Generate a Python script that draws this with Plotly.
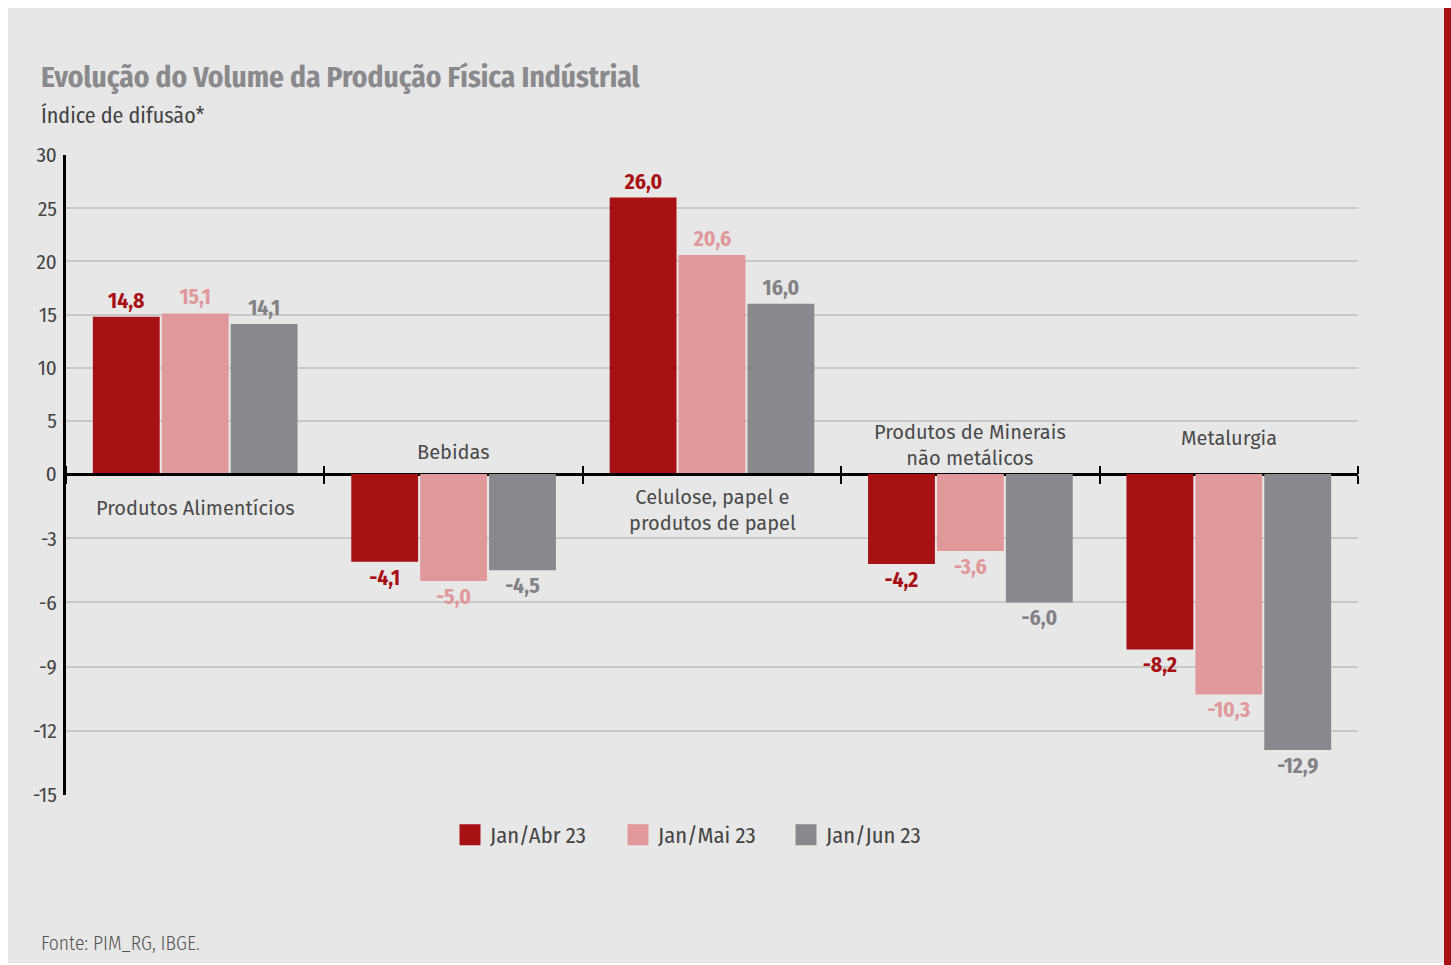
import plotly.graph_objects as go

categories = ["Produtos Alimentícios", "Bebidas", "Celulose, papel e<br>produtos de papel",
              "Produtos de Minerais<br>não metálicos", "Metalurgia"]
series_names = ["Jan/Abr 23", "Jan/Mai 23", "Jan/Jun 23"]
jan_abr = [14.8, -4.1, 26.0, -4.2, -8.2]
jan_mai = [15.1, -5.0, 20.6, -3.6, -10.3]
jan_jun = [14.1, -4.5, 16.0, -6.0, -12.9]
pos_ticks = [0, 5, 10, 15, 20, 25, 30]
neg_ticks = [-3, -6, -9, -12, -15]
# category name placement (axis units, relative to the zero line)
label_side = ["below", "above", "below", "above", "above"]
label_offset = [-1.6, 2.1, -1.7, 2.7, 3.4]

colors = ["#a81113", "#e0989b", "#89888c"]
label_colors = ["#a81113", "#e0989b", "#838286"]
values = [jan_abr, jan_mai, jan_jun]

W, H = 1451, 965
L, R, T, B = 66, 93, 155, 170
plot_w = W - L - R
plot_h = H - T - B
zero_px = 474
split = (H - B - zero_px) / plot_h  # share of plot height for the negative part

COND = "Fira Sans Condensed, Roboto Condensed, sans-serif"
REG = "Fira Sans, Lato, sans-serif"

def fmt(v):
    return f"{v:.1f}".replace(".", ",")

fig = go.Figure()
xs = list(range(len(categories)))
bar_line = dict(color="rgba(0,0,0,0)", width=8)
for i, (name, vals) in enumerate(zip(series_names, values)):
    pos = [v if v >= 0 else None for v in vals]
    neg = [v if v < 0 else None for v in vals]
    fig.add_trace(go.Bar(
        x=xs, y=pos, name=name, marker=dict(color=colors[i], line=bar_line),
        legendgroup=name, showlegend=False,
        text=[fmt(v) if v is not None else "" for v in pos], textposition="outside",
        textfont=dict(family=COND, size=21.5, color=label_colors[i], weight=700),
        cliponaxis=False, xaxis="x", yaxis="y", hoverinfo="skip"))
    fig.add_trace(go.Bar(
        x=xs, y=neg, name=name, marker=dict(color=colors[i], line=bar_line),
        legendgroup=name, showlegend=False,
        text=[fmt(v) if v is not None else "" for v in neg], textposition="outside",
        textfont=dict(family=COND, size=21.5, color=label_colors[i], weight=700),
        cliponaxis=False, xaxis="x", yaxis="y2", hoverinfo="skip"))

# legend entries (large square swatches)
for i, name in enumerate(series_names):
    fig.add_trace(go.Scatter(
        x=[None], y=[None], name=name, legendgroup=name, mode="markers",
        marker=dict(symbol="square", size=16, color=colors[i], line=dict(color=colors[i], width=5)),
        xaxis="x", yaxis="y", hoverinfo="skip"))

def px_x(px):
    return (px - L) / plot_w

def px_y(py):
    return (H - B - py) / plot_h

shapes = [
    dict(type="rect", xref="paper", yref="paper", x0=px_x(8), x1=px_x(1444), y0=px_y(963), y1=px_y(8),
         fillcolor="#e7e7e7", line_width=0, layer="below"),
    dict(type="rect", xref="paper", yref="paper", x0=px_x(1444), x1=px_x(1452), y0=px_y(966), y1=px_y(8),
         fillcolor="#a81113", line_width=0, layer="below"),
]

annotations = [
    dict(text="Evolução do Volume da Produção Física Indústrial", xref="paper", yref="paper",
         x=px_x(39), y=px_y(78), xanchor="left", yanchor="middle", showarrow=False,
         font=dict(family=COND, size=29.3, color="#8a898d", weight=700)),
    dict(text="Índice de difusão*", xref="paper", yref="paper",
         x=px_x(39), y=px_y(116), xanchor="left", yanchor="middle", showarrow=False,
         font=dict(family=COND, size=22, color="#444444")),
    dict(text="Fonte: PIM_RG, IBGE.", xref="paper", yref="paper",
         x=px_x(39), y=px_y(943), xanchor="left", yanchor="middle", showarrow=False,
         font=dict(family=COND, size=19.5, color="#555555", weight=300)),
]
for i, cat in enumerate(categories):
    yref = "y2" if label_side[i] == "below" else "y"
    annotations.append(dict(text=cat, x=i, y=label_offset[i], xref="x", yref=yref,
                            showarrow=False, xanchor="center", yanchor="middle",
                            font=dict(family=REG, size=20, color="#4a4a4a")))

axis_font = dict(family=COND, size=21, color="#444444")
fig.update_layout(
    width=W, height=H,
    margin=dict(l=L, r=R, t=T, b=B),
    paper_bgcolor="white", plot_bgcolor="rgba(0,0,0,0)",
    barmode="group", bargap=0.2, bargroupgap=0.03,
    shapes=shapes, annotations=annotations,
    showlegend=True,
    legend=dict(orientation="h", x=px_x(450), xanchor="left", y=px_y(835), yanchor="middle",
                entrywidth=123, entrywidthmode="pixels",
                font=dict(family=COND, size=22.5, color="#444444"), bgcolor="rgba(0,0,0,0)"),
    xaxis=dict(range=[-0.5, len(categories) - 0.5], anchor="free", position=split,
               showline=True, linecolor="black", linewidth=3,
               tickmode="linear", tick0=-0.5, dtick=1, ticks="outside", ticklen=8,
               tickwidth=2, tickcolor="black", showticklabels=False, showgrid=False,
               zeroline=False, fixedrange=True),
    xaxis2=dict(range=[-0.5, len(categories) - 0.5], overlaying="x", side="top", anchor="free",
                position=split, showline=False,
                tickmode="linear", tick0=-0.5, dtick=1, ticks="outside", ticklen=8,
                tickwidth=2, tickcolor="black", showticklabels=False, showgrid=False,
                zeroline=False),
    yaxis=dict(domain=[split, 1], range=[0, 30], tickmode="array", tickvals=pos_ticks,
               ticktext=[str(t) for t in pos_ticks], showgrid=True, gridcolor="#c8c8c8",
               gridwidth=2, zeroline=False, showline=True, linecolor="black", linewidth=3,
               ticks="", tickfont=axis_font, ticklabelstandoff=2, anchor="x"),
    yaxis2=dict(domain=[0, split], range=[-15, 0], tickmode="array", tickvals=neg_ticks,
                ticktext=[str(t) for t in neg_ticks], showgrid=True, gridcolor="#c8c8c8",
                gridwidth=2, zeroline=False, showline=True, linecolor="black", linewidth=3,
                ticks="", tickfont=axis_font, ticklabelstandoff=2, anchor="x"),
)
# empty trace so the upward tick marks of the overlaid axis render
fig.add_trace(go.Scatter(x=[None], y=[None], xaxis="x2", yaxis="y", showlegend=False, hoverinfo="skip"))

fig.write_html("out.html", config={"displayModeBar": False},
               post_script="document.body.style.margin='0';")
